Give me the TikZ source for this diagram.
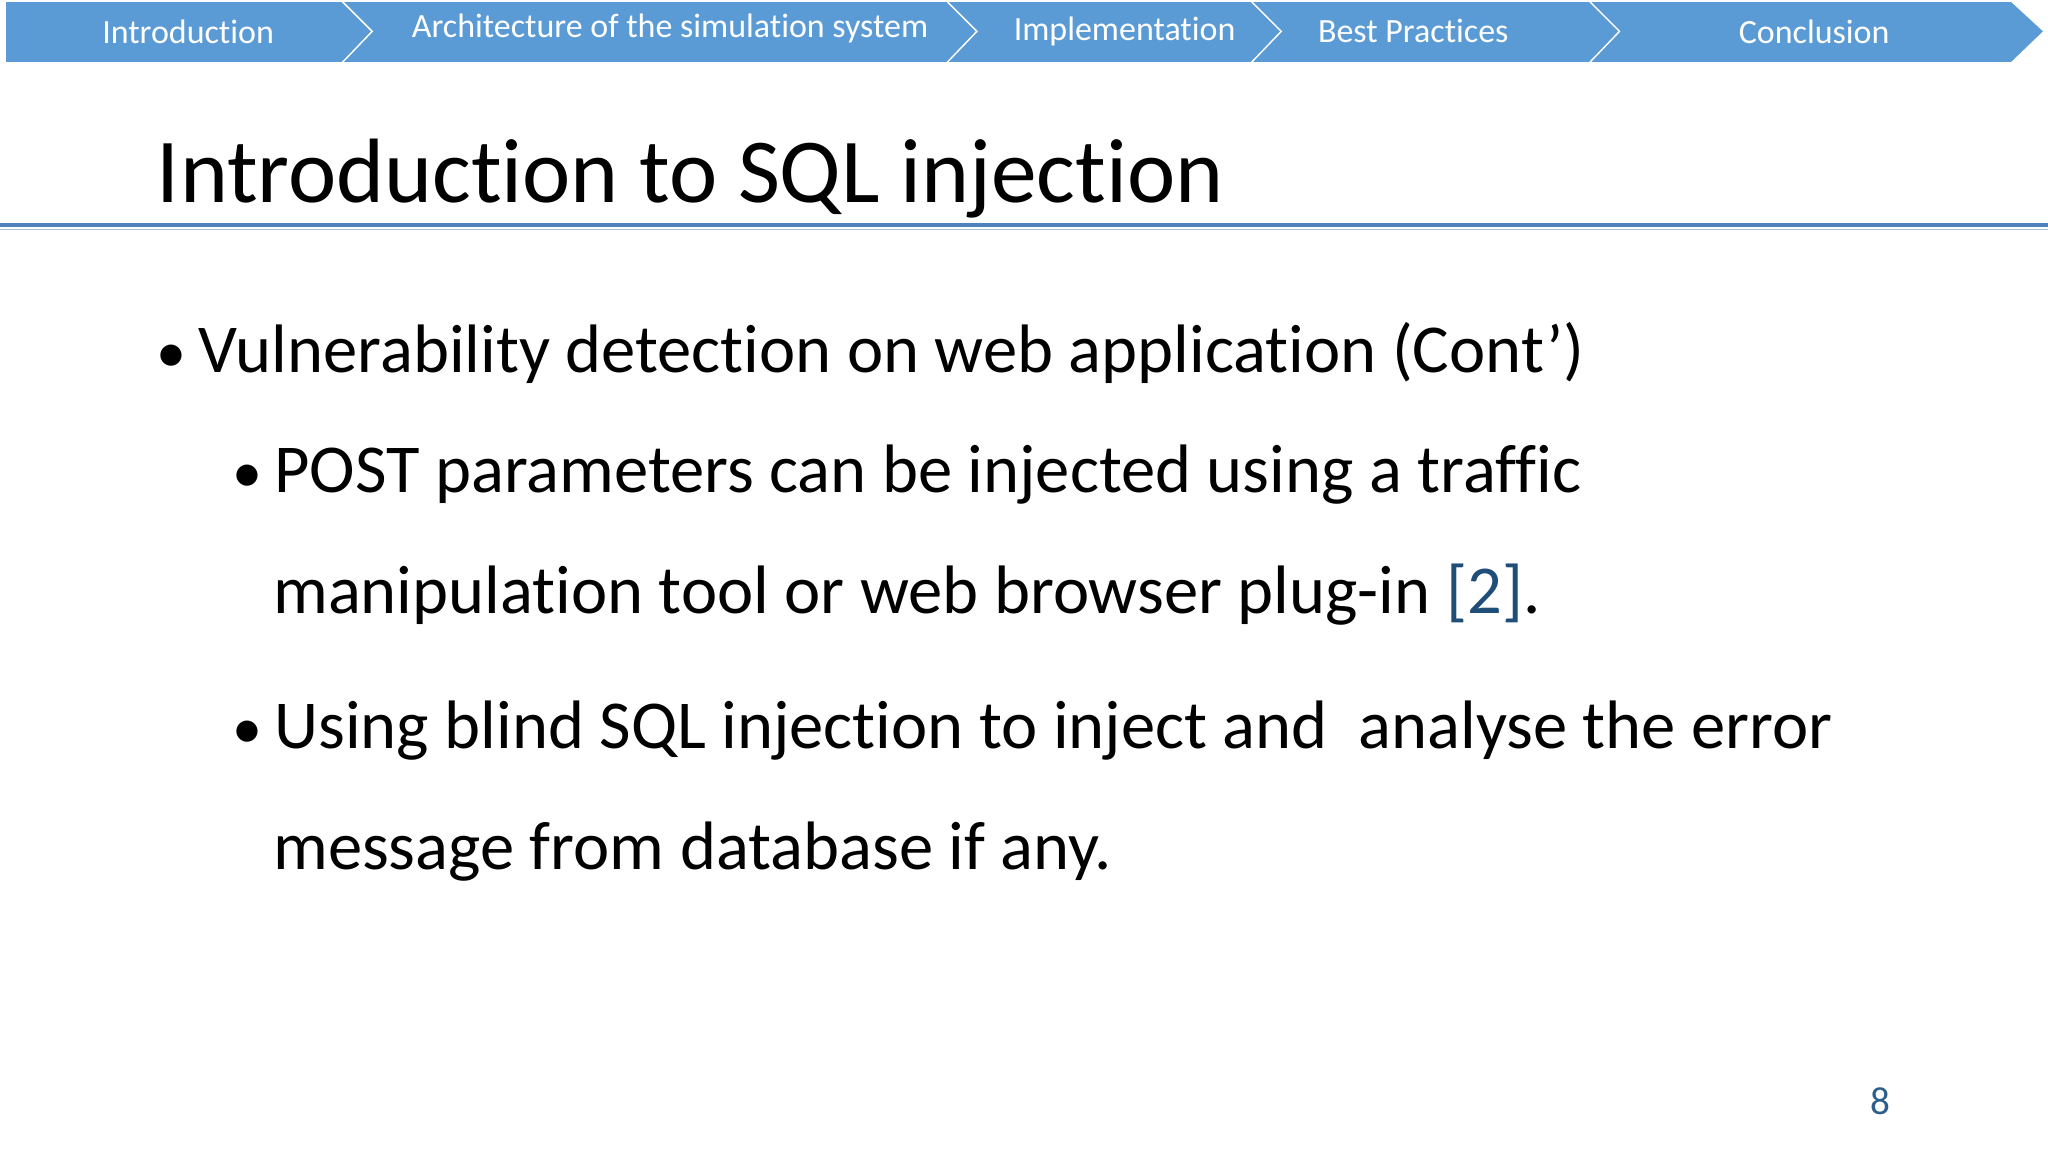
\documentclass[tikz,border=0pt]{standalone}
\usepackage{fontspec}
\setmainfont[Ligatures=NoCommon]{Carlito}
\definecolor{tabblue}{HTML}{5B9BD5}
\definecolor{lineblue}{HTML}{4F81BD}
\definecolor{refblue}{HTML}{1F4E79}
\definecolor{numblue}{HTML}{2E5E8C}
\newcommand{\smbul}{{\fontsize{46}{46}\selectfont •}}
\begin{document}
\begin{tikzpicture}[x=1pt,y=-1pt,
  tabtxt/.style={text=white,font=\fontsize{26}{28}\selectfont,anchor=center},
  tab/.style={fill=tabblue,draw=white,line width=1pt},
  body/.style={anchor=base west,font=\fontsize{52.5}{56}\selectfont,inner sep=0}]
\useasboundingbox (0,0) rectangle (1568,882);
\fill[white] (0,0) rectangle (1568,882);
% tabs
\path[tab] (4,1) -- (262,1) -- (285,24) -- (262,48) -- (4,48) -- cycle;
\path[tab] (262,1) -- (725,1) -- (748,24) -- (725,48) -- (262,48) -- (285,24) -- cycle;
\path[tab] (725,1) -- (958,1) -- (981,24) -- (958,48) -- (725,48) -- (748,24) -- cycle;
\path[tab] (958,1) -- (1217,1) -- (1240,24) -- (1217,48) -- (958,48) -- (981,24) -- cycle;
\path[tab] (1217,1) -- (1540,1) -- (1565,24) -- (1540,48) -- (1217,48) -- (1240,24) -- cycle;
\node[tabtxt] (t1) at (144,24) {Introduction};
\node[tabtxt] (t2) at (513,22) {Architecture of the simulation system};
\node[tabtxt] (t3) at (861,24) {Implementation};
\node[tabtxt] (t4) at (1082,24) {Best Practices};
\node[tabtxt] (t5) at (1389,24) {Conclusion};
% title
\node[anchor=base west,inner sep=0,font=\fontsize{70}{74}\selectfont] (title) at (120,155) {Introduction to SQL injection};
\draw[lineblue,line width=3pt] (0,172) -- (1568,172);
\draw[lineblue!50,line width=1pt] (0,175.5) -- (1568,175.5);
% body
\node[body] (b0) at (120,285) {\smbul\hspace{9pt}Vulnerability detection on web application (Cont’)};
\node[body] (b1) at (178,377) {\smbul\hspace{9pt}POST parameters can be injected using a traffic};
\node[body] (b1b) at (209,470) {manipulation tool or web browser plug-in \textcolor{refblue}{[2]}.};
\node[body] (b2) at (178,573) {\smbul\hspace{9pt}Using blind SQL injection to inject and\ \ analyse the error};
\node[body] (b2b) at (209,666) {message from database if any.};
\node[anchor=base,inner sep=0,text=numblue,font=\fontsize{30}{32}\selectfont] (pg) at (1440,853) {8};
\end{tikzpicture}
\end{document}
